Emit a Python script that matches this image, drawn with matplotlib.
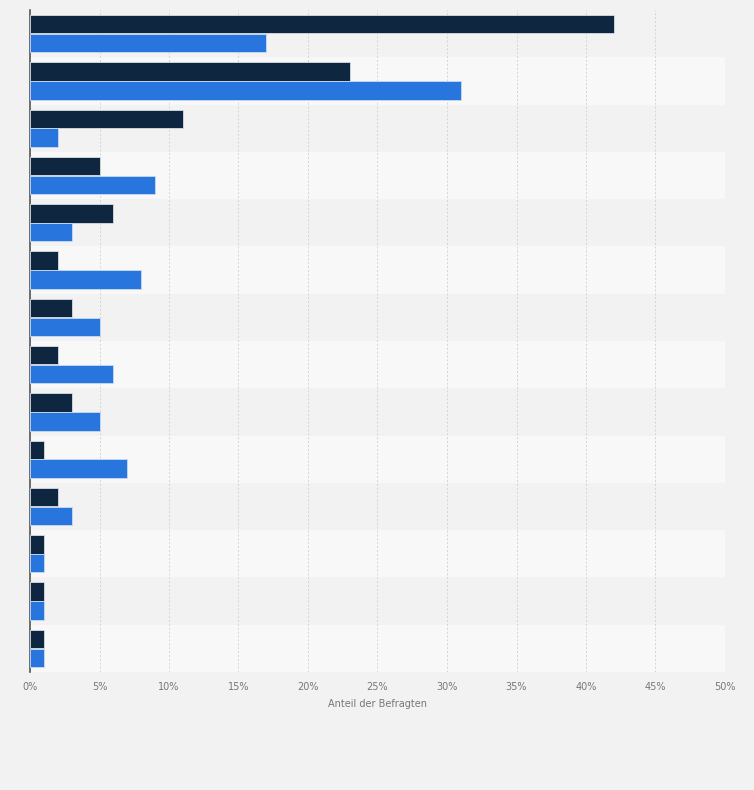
import numpy as np
import matplotlib.pyplot as plt

# 14 Kategorien (keine Beschriftung im Original sichtbar)
categories = list(range(14))
series_dark = [42, 23, 11, 5, 6, 2, 3, 2, 3, 1, 2, 1, 1, 1]
series_blue = [17, 31, 2, 9, 3, 8, 5, 6, 5, 7, 3, 1, 1, 1]
x_ticks = [0, 5, 10, 15, 20, 25, 30, 35, 40, 45, 50]

fig = plt.figure(figsize=(7.54, 7.90), dpi=100)
fig.patch.set_facecolor('#f2f2f2')
ax = fig.add_axes([30 / 754, 118 / 790, 695 / 754, 662 / 790])
ax.set_facecolor('#f8f8f8')

n = len(categories)
y = np.arange(n)

# alternating row bands
for i in range(n):
    if i % 2 == 0:
        ax.axhspan(i - 0.5, i + 0.5, color='#f2f2f2', zorder=0, lw=0)

h = 0.39
ax.barh(y - 0.2, series_dark, height=h, color='#0f2640', edgecolor='#d8dde3',
        linewidth=0.6, zorder=3)
ax.barh(y + 0.2, series_blue, height=h, color='#2876dd', edgecolor='#c9dbf3',
        linewidth=0.6, zorder=3)

ax.set_ylim(n - 0.5, -0.5)
ax.set_xlim(0, 50)
ax.set_xticks(x_ticks)
ax.set_xticklabels([f'{t}%' for t in x_ticks], fontsize=7, color='#777777')
ax.set_yticks([])
ax.tick_params(axis='x', length=0, pad=7)
ax.xaxis.grid(True, linestyle=(0, (2, 2)), color='#d4d4d4', linewidth=0.7, zorder=1)
ax.set_axisbelow(True)

for s in ['top', 'right', 'bottom']:
    ax.spines[s].set_visible(False)
ax.spines['left'].set_color('#555555')
ax.spines['left'].set_linewidth(1.2)

ax.set_xlabel('Anteil der Befragten', fontsize=7, color='#777777', labelpad=5)

plt.savefig('out.png', dpi=100, facecolor=fig.get_facecolor())
plt.close()
